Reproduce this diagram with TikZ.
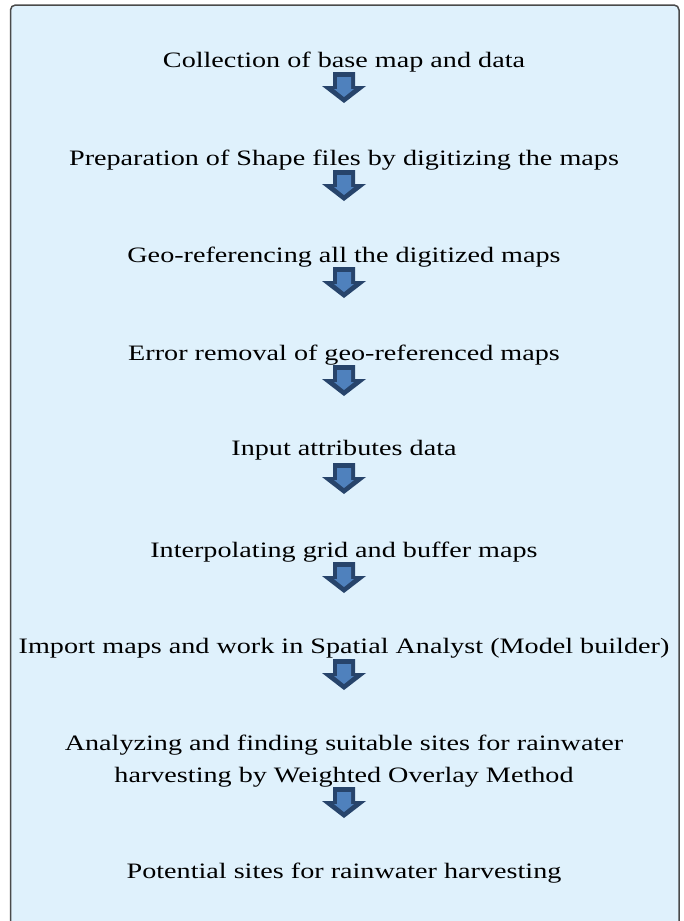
\documentclass[tikz,border=0pt]{standalone}
\usepackage{fontspec}
\setmainfont[FakeStretch=1.28]{Liberation Serif}
\definecolor{panelfill}{HTML}{DFF1FC}
\definecolor{panelline}{HTML}{4A4A4A}
\definecolor{arrowdark}{HTML}{27446B}
\definecolor{arrowlight}{HTML}{4F81BD}
\tikzset{
  x=1pt, y=1pt,
  steptext/.style={anchor=base, inner sep=0pt, font=\fontsize{22}{32}\selectfont, text=black, align=center},
  pics/blockarrow/.style={code={
    \fill[arrowdark] (-11,0) -- (11,0) -- (11,-14) -- (22,-14) -- (0,-31) -- (-22,-14) -- (-11,-14) -- cycle;
    \fill[arrowlight] (-7,-5) -- (7,-5) -- (7,-17) -- (10,-17) -- (0,-25) -- (-10,-17) -- (-7,-17) -- cycle;
  }}
}
\begin{document}
\begin{tikzpicture}
\useasboundingbox (0,0) rectangle (684,-921);
% panel behind the flow
\draw[panelline, line width=1.5pt, fill=panelfill, rounded corners=5pt] (10.5,-5) rectangle (679,-940);

\node[steptext] (s1) at (344,-67) {Collection of base map and data};
\node[steptext] (s2) at (344,-165) {Preparation of Shape files by digitizing the maps};
\node[steptext] (s3) at (344,-262) {Geo-referencing all the digitized maps};
\node[steptext] (s4) at (344,-360) {Error removal of geo-referenced maps};
\node[steptext] (s5) at (344,-455) {Input attributes data};
\node[steptext] (s6) at (344,-557) {Interpolating grid and buffer maps};
\node[steptext] (s7) at (344,-653) {Import maps and work in Spatial Analyst (Model builder)};
% two-line step: the base anchor sits on the last line
\node[steptext] (s8) at (344,-782) {Analyzing and finding suitable sites for rainwater\\harvesting by Weighted Overlay Method};
\node[steptext] (s9) at (344,-878) {Potential sites for rainwater harvesting};

% block arrows between the steps
\pic at (344,-72) {blockarrow};
\pic at (344,-170) {blockarrow};
\pic at (344,-267) {blockarrow};
\pic at (344,-365) {blockarrow};
\pic at (344,-463) {blockarrow};
\pic at (344,-562) {blockarrow};
\pic at (344,-659) {blockarrow};
\pic at (344,-787) {blockarrow};
\end{tikzpicture}
\end{document}
